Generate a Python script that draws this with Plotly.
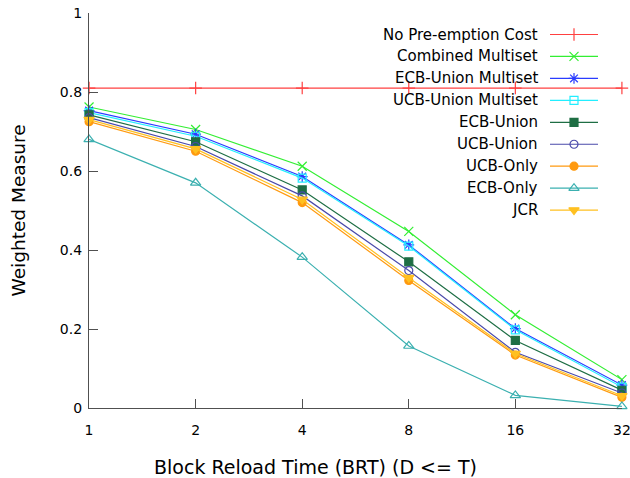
import plotly.graph_objects as go

brt = [1, 2, 4, 8, 16, 32]
brt_labels = ["1", "2", "4", "8", "16", "32"]

no_preemption = [0.81, 0.81, 0.81, 0.81, 0.81, 0.81]
combined_multiset = [0.762, 0.705, 0.612, 0.447, 0.236, 0.072]
ecb_union_multiset = [0.753, 0.693, 0.586, 0.413, 0.201, 0.058]
ucb_union_multiset = [0.748, 0.688, 0.582, 0.410, 0.198, 0.053]
ecb_union = [0.742, 0.674, 0.552, 0.370, 0.171, 0.045]
ucb_union = [0.735, 0.662, 0.537, 0.348, 0.141, 0.038]
ucb_only = [0.725, 0.650, 0.520, 0.323, 0.134, 0.027]
ecb_only = [0.680, 0.570, 0.382, 0.157, 0.032, 0.004]
jcr = [0.730, 0.656, 0.528, 0.330, 0.138, 0.031]

series = [
    ("No Pre-emption Cost", no_preemption, "#ff4040", "cross-thin", 9),
    ("Combined Multiset", combined_multiset, "#33ee33", "x-thin", 9),
    ("ECB-Union Multiset", ecb_union_multiset, "#2a3cff", "asterisk", 9),
    ("UCB-Union Multiset", ucb_union_multiset, "#22eeff", "square-open", 8),
    ("ECB-Union", ecb_union, "#1e6e44", "square", 8),
    ("UCB-Union", ucb_union, "#4a4aaa", "circle-open", 8),
    ("UCB-Only", ucb_only, "#ff9a10", "circle", 8),
    ("ECB-Only", ecb_only, "#3bb0b0", "triangle-up-open", 9),
    ("JCR", jcr, "#ffc020", "triangle-down", 9),
]

fig = go.Figure()
for name, vals, color, sym, size in series:
    fig.add_trace(go.Scatter(
        x=brt, y=vals, mode="lines+markers", name=name,
        line=dict(color=color, width=1.2),
        marker=dict(symbol=sym, size=size, color=color,
                    line=dict(color=color, width=1.2)),
        showlegend=False, xaxis="x", yaxis="y", cliponaxis=False,
    ))

# manual legend in pixel-like overlay axes (text right, sample on right)
row0, rowstep = 34.5, 21.95
for i, (name, vals, color, sym, size) in enumerate(series):
    yy = row0 + i * rowstep
    fig.add_trace(go.Scatter(
        x=[550, 598], y=[yy, yy], mode="lines",
        line=dict(color=color, width=1.2), showlegend=False,
        xaxis="x2", yaxis="y2", hoverinfo="skip"))
    fig.add_trace(go.Scatter(
        x=[574], y=[yy], mode="markers",
        marker=dict(symbol=sym, size=size, color=color,
                    line=dict(color=color, width=1.2)),
        showlegend=False, xaxis="x2", yaxis="y2", hoverinfo="skip"))
    fig.add_annotation(x=540, y=yy, xref="x2", yref="y2", text=name,
                       showarrow=False, xanchor="right", yanchor="middle",
                       font=dict(size=15, color="#000000"))

# axis titles
fig.add_annotation(x=(315 - 89) / 533, y=-(467 - 408) / 395, xref="paper", yref="paper",
                   text="Block Reload Time (BRT) (D <= T)", showarrow=False,
                   xanchor="center", yanchor="middle", font=dict(size=19))
fig.add_annotation(x=(18 - 89) / 533, y=0.5, xref="paper", yref="paper",
                   text="Weighted Measure", showarrow=False, textangle=-90,
                   xanchor="center", yanchor="middle", font=dict(size=18.5))

font_family = "DejaVu Sans"
fig.update_layout(
    width=630, height=478,
    margin=dict(l=89, r=8, t=13, b=70, autoexpand=False),
    paper_bgcolor="white", plot_bgcolor="white",
    font=dict(family=font_family, size=14, color="#000000"),
    xaxis=dict(
        type="log", range=[-0.0002, 1.5054], tickvals=brt, ticktext=brt_labels,
        ticks="inside", ticklen=9, tickcolor="#505050", tickwidth=1,
        showgrid=False, zeroline=False, showline=True, linecolor="#505050",
        linewidth=1.2, mirror=False, ticklabelstandoff=9,
        ticklabeloverflow="allow", automargin=False,
        tickfont=dict(size=14),
    ),
    yaxis=dict(
        range=[0, 1], tickvals=[0, 0.2, 0.4, 0.6, 0.8, 1],
        ticktext=["0", "0.2", "0.4", "0.6", "0.8", "1"],
        ticks="inside", ticklen=9, tickcolor="#505050", tickwidth=1,
        showgrid=False, zeroline=False, showline=True, linecolor="#505050",
        linewidth=1.2, ticklabelstandoff=3, automargin=False,
        tickfont=dict(size=14),
    ),
    xaxis2=dict(range=[89, 622], overlaying="x", visible=False, fixedrange=True),
    yaxis2=dict(range=[408, 13], overlaying="y", visible=False, fixedrange=True),
)

fig.write_html("out.html")
